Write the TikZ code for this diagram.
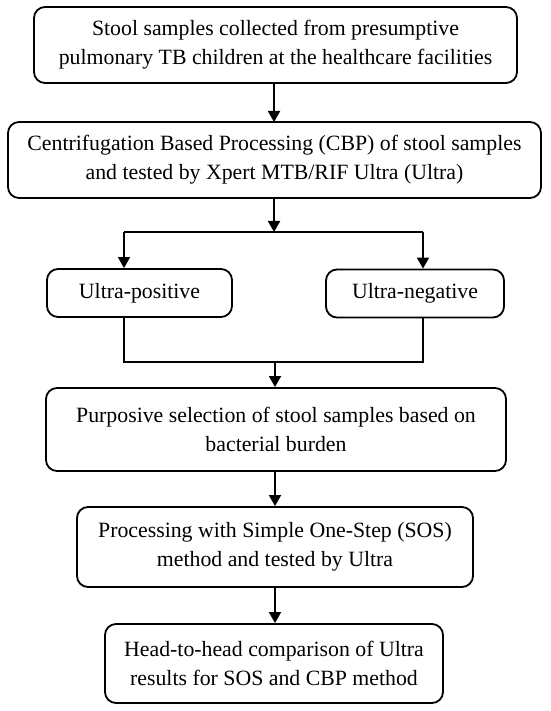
\documentclass[tikz,border=0pt]{standalone}
\usepackage{fontspec}
\setmainfont{Liberation Serif}
\usetikzlibrary{arrows.meta}
\begin{document}
\begin{tikzpicture}[x=1pt,y=-1pt,
  box/.style={draw=black, line width=1.8pt, rounded corners=11pt, fill=white,
    align=center, inner sep=0pt, font=\fontsize{21.8}{28.8}\selectfont},
  conn/.style={draw=black, line width=1.8pt},
  arr/.style={conn, -{Triangle[width=12pt,length=11pt]}}]
\useasboundingbox (0,0) rectangle (550,711);
\node[box, minimum width=483pt, minimum height=76pt] (b1) at (275.5,45)
  {Stool samples collected from presumptive\\pulmonary TB children at the healthcare facilities};
\node[box, minimum width=533pt, minimum height=76pt] (b2) at (274.5,160)
  {Centrifugation Based Processing (CBP) of stool samples\\and tested by Xpert MTB/RIF Ultra (Ultra)};
\node[box, minimum width=185pt, minimum height=48pt] (pos) at (139.5,293) {Ultra-positive};
\node[box, minimum width=178pt, minimum height=48pt] (neg) at (415,293.5) {Ultra-negative};
\node[box, minimum width=460pt, minimum height=83pt] (b4) at (276,429.5)
  {Purposive selection of stool samples based on\\bacterial burden};
\node[box, minimum width=396pt, minimum height=80pt] (b5) at (275,547)
  {Processing with Simple One-Step (SOS)\\method and tested by Ultra};
\node[box, minimum width=338pt, minimum height=79pt] (b6) at (274,663.5)
  {Head-to-head comparison of Ultra\\results for SOS and CBP method};
% connectors
\coordinate (split) at (274,232);
\coordinate (sl) at (124,232);
\coordinate (sr) at (423,232);
\coordinate (jl) at (124,362);
\coordinate (jr) at (423,362);
\coordinate (jm) at (275,362);
\draw[arr] (b1.south -| 274,0) -- (274,122);
\draw[arr] (b2.south -| split) -- (split);
\draw[conn] (sl) -- (sr);
\draw[arr] (sl) -- (sl |- pos.north);
\draw[arr] (sr) -- (sr |- neg.north);
\draw[conn] (jl |- pos.south) -- (jl) -- (jr) -- (jr |- neg.south);
\draw[arr] (jm) -- (jm |- b4.north);
\draw[arr] (b4.south -| jm) -- (jm |- b5.north);
\draw[arr] (b5.south -| jm) -- (jm |- b6.north);
\end{tikzpicture}
\end{document}
